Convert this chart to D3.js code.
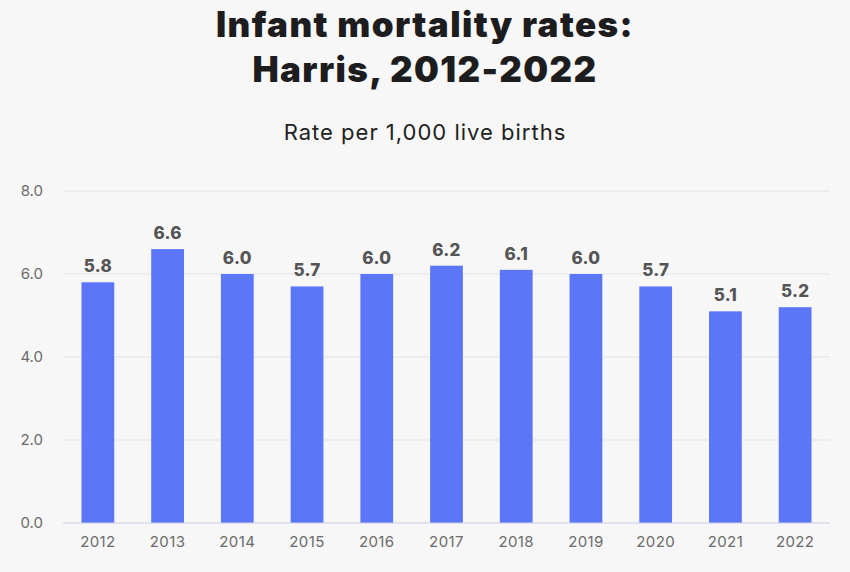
<!DOCTYPE html>
<html>
<head>
<meta charset="utf-8">
<script src="https://cdn.jsdelivr.net/npm/d3@7"></script>
<style>
  html, body { margin: 0; padding: 0; background: #f7f7f7; }
  svg { display: block; }
</style>
</head>
<body>
<div id="chart"></div>
<script>
// data
const years = ["2012","2013","2014","2015","2016","2017","2018","2019","2020","2021","2022"];
const rates = [5.8, 6.6, 6.0, 5.7, 6.0, 6.2, 6.1, 6.0, 5.7, 5.1, 5.2];
const yTicks = [0, 2, 4, 6, 8];
const titleLines = ["Infant mortality rates:", "Harris, 2012-2022"];
const subtitle = "Rate per 1,000 live births";

const width = 850, height = 572;
const margin = { top: 191, right: 20, bottom: 49, left: 63 };

const svg = d3.select("#chart").append("svg")
    .attr("width", width)
    .attr("height", height);

svg.append("rect").attr("width", width).attr("height", height).attr("fill", "#f7f7f7");

const x = d3.scaleBand()
    .domain(years)
    .range([margin.left, width - margin.right])
    .paddingInner(0.53)
    .paddingOuter(0.265);

const y = d3.scaleLinear()
    .domain([0, 8])
    .range([height - margin.bottom, margin.top]);

// title
svg.selectAll(".title")
  .data(titleLines)
  .enter().append("text")
    .attr("x", width / 2)
    .attr("y", (d, i) => 37 + i * 45)
    .attr("text-anchor", "middle")
    .style("font-family", "Inter, 'Noto Sans', sans-serif")
    .style("font-weight", 900)
    .style("font-size", "35px")
    .style("letter-spacing", "1.4px")
    .style("fill", "#1d1d1f")
    .text(d => d);

svg.append("text")
    .attr("x", width / 2)
    .attr("y", 140)
    .attr("text-anchor", "middle")
    .style("font-family", "Inter, 'Noto Sans', sans-serif")
    .style("font-size", "22px")
    .style("letter-spacing", "1px")
    .style("fill", "#222")
    .text(subtitle);

// gridlines
svg.append("g")
  .selectAll("line")
  .data(yTicks.filter(d => d > 0))
  .enter().append("line")
    .attr("x1", margin.left)
    .attr("x2", width - margin.right)
    .attr("y1", d => y(d))
    .attr("y2", d => y(d))
    .attr("stroke", "#e3e3e3")
    .attr("stroke-width", 1);

// y axis labels
const yAxis = svg.append("g")
    .attr("transform", "translate(" + margin.left + ",0)")
    .call(d3.axisLeft(y).tickValues(yTicks).tickFormat(d3.format(".1f")).tickSize(0).tickPadding(20));
yAxis.select(".domain").remove();
yAxis.selectAll("text")
    .style("font-family", "Inter, 'Noto Sans', sans-serif")
    .style("font-size", "15px")
    .style("fill", "#6b6b6b");

// bars
svg.append("g")
  .selectAll("rect")
  .data(rates)
  .enter().append("rect")
    .attr("x", (d, i) => x(years[i]))
    .attr("y", d => y(d))
    .attr("width", x.bandwidth())
    .attr("height", d => y(0) - y(d))
    .attr("fill", "#5b76f9");

// value labels
svg.append("g")
  .selectAll("text")
  .data(rates)
  .enter().append("text")
    .attr("x", (d, i) => x(years[i]) + x.bandwidth() / 2)
    .attr("y", d => y(d) - 10)
    .attr("text-anchor", "middle")
    .style("font-family", "Inter, 'Noto Sans', sans-serif")
    .style("font-weight", 800)
    .style("font-size", "17px")
    .style("letter-spacing", "0.3px")
    .style("fill", "#555")
    .text(d => d3.format(".1f")(d));

// x axis
const xAxis = svg.append("g")
    .attr("transform", "translate(0," + y(0) + ")")
    .call(d3.axisBottom(x).tickSize(0).tickPadding(13));
xAxis.select(".domain")
    .attr("stroke", "#c9cfe6")
    .attr("d", "M" + margin.left + ",0H" + (width - margin.right));
xAxis.selectAll("text")
    .style("font-family", "Inter, 'Noto Sans', sans-serif")
    .style("font-size", "15px")
    .style("letter-spacing", "0.4px")
    .style("fill", "#6b6b6b");
</script>
</body>
</html>
